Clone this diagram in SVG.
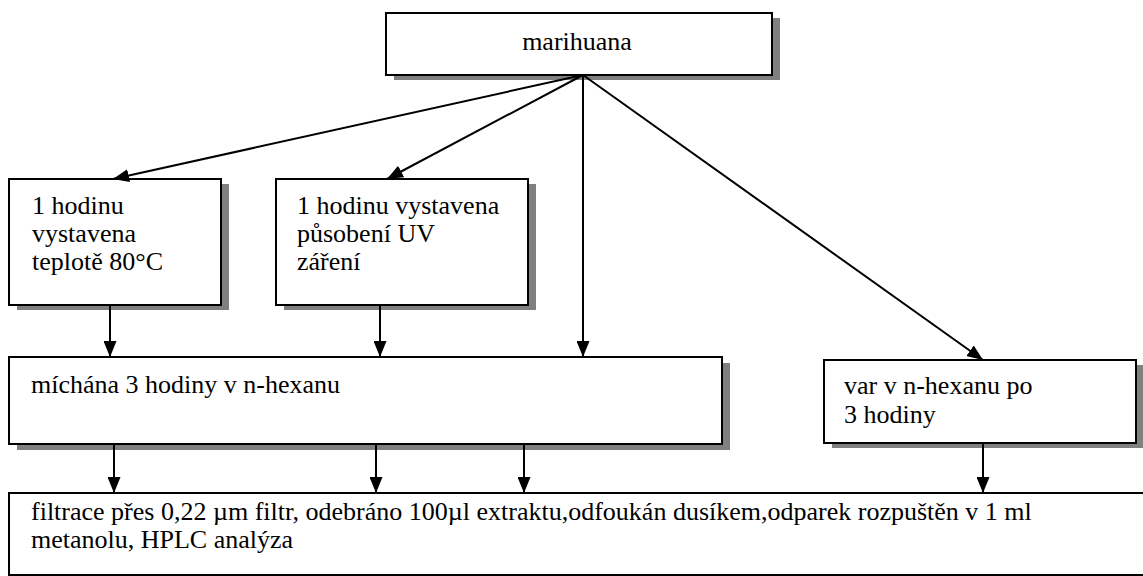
<svg xmlns="http://www.w3.org/2000/svg" width="1143" height="576" viewBox="0 0 1143 576">
<style>
.box{fill:#fff;stroke:#000;stroke-width:2}
.sh{fill:#808080}
.t{font-family:"Liberation Serif","Times New Roman",serif;font-size:26px;fill:#000}
.c{fill:none;stroke:#000;stroke-width:2}
</style>
<defs>
<marker id="ah" markerUnits="userSpaceOnUse" markerWidth="16" markerHeight="13" viewBox="0 0 16 13" refX="16" refY="6.5" orient="auto">
<path d="M0,0 L16,6.5 L0,13 Z" fill="#000"/>
</marker>
</defs>
<rect width="1143" height="576" fill="#fff"/>
<g id="marihuana">
<rect class="sh" x="394" y="18" width="386" height="62"/>
<rect class="box" x="386" y="13" width="386" height="62"/>
<text class="t" x="577" y="50" text-anchor="middle">marihuana</text>
</g>
<g id="teplota">
<rect class="sh" x="17" y="184" width="212" height="126"/>
<rect class="box" x="9" y="179" width="212" height="126"/>
<text class="t" x="32" y="214">1 hodinu</text>
<text class="t" x="32" y="242">vystavena</text>
<text class="t" x="32" y="270">teplotě 80°C</text>
</g>
<g id="uv">
<rect class="sh" x="284" y="184" width="252" height="126"/>
<rect class="box" x="276" y="179" width="252" height="126"/>
<text class="t" x="297" y="214">1 hodinu vystavena</text>
<text class="t" x="297" y="242">působení UV</text>
<text class="t" x="297" y="270">záření</text>
</g>
<g id="michani">
<rect class="sh" x="17" y="363" width="713" height="87"/>
<rect class="box" x="9" y="357" width="713" height="87"/>
<text class="t" x="31" y="393">míchána 3 hodiny v n-hexanu</text>
</g>
<g id="var">
<rect class="sh" x="832" y="365" width="312" height="83"/>
<rect class="box" x="824" y="360" width="312" height="83"/>
<text class="t" x="844" y="394">var v n-hexanu po</text>
<text class="t" x="844" y="423">3 hodiny</text>
</g>
<g id="filtrace">
<rect class="box" x="9" y="493" width="1150" height="82"/>
<text class="t" x="31" y="520">filtrace přes 0,22 µm filtr, odebráno 100µl extraktu,odfoukán dusíkem,odparek rozpuštěn v 1 ml</text>
<text class="t" x="31" y="548">metanolu,  HPLC analýza</text>
</g>
<g id="connectors">
<line class="c" x1="583" y1="75" x2="113" y2="179" marker-end="url(#ah)"/>
<line class="c" x1="583" y1="75" x2="387" y2="179" marker-end="url(#ah)"/>
<line class="c" x1="583" y1="75" x2="583" y2="357" marker-end="url(#ah)"/>
<line class="c" x1="583" y1="75" x2="983" y2="360" marker-end="url(#ah)"/>
<line class="c" x1="110" y1="305" x2="110" y2="357" marker-end="url(#ah)"/>
<line class="c" x1="380" y1="305" x2="380" y2="357" marker-end="url(#ah)"/>
<line class="c" x1="114" y1="444" x2="114" y2="493" marker-end="url(#ah)"/>
<line class="c" x1="376" y1="444" x2="376" y2="493" marker-end="url(#ah)"/>
<line class="c" x1="524" y1="444" x2="524" y2="493" marker-end="url(#ah)"/>
<line class="c" x1="983" y1="443" x2="983" y2="493" marker-end="url(#ah)"/>
</g>
</svg>
